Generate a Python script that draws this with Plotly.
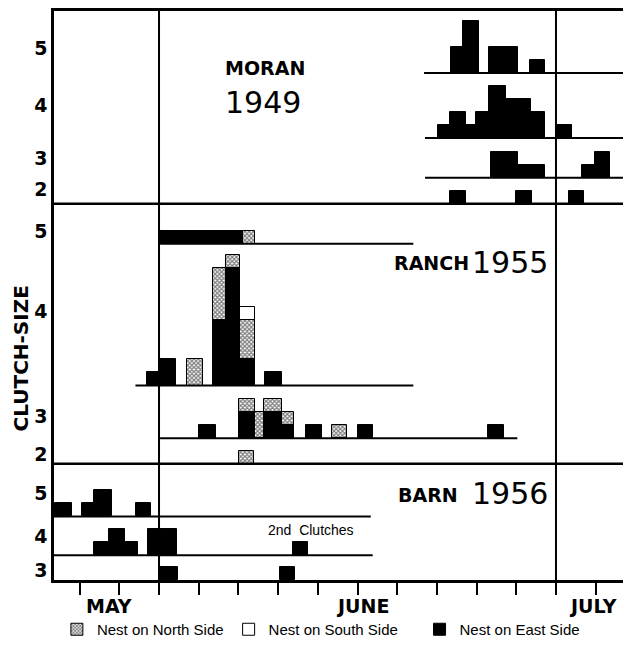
import plotly.graph_objects as go

# ---- x is the day of the season counted from May 1 (= 1); June 1 = 32, July 1 = 62
JUNE1 = 32
JULY1 = 62
TICK_DAYS = list(range(26, 66, 3))
MONTH_LABELS = ["MAY", "JUNE", "JULY"]
MONTH_LABEL_DAYS = [28.2, 47.4, 64.8]

# each bar: (start day, end day, east-side nests, north-side nests, south-side nests)
MORAN_5 = [(54.05, 55.0, 2, 0, 0), (55.0, 56.2, 4, 0, 0), (56.95, 58.2, 2, 0, 0),
           (58.2, 59.15, 2, 0, 0), (60.0, 61.2, 1, 0, 0)]
MORAN_4 = [(53.07, 54.0, 1, 0, 0), (54.0, 55.2, 2, 0, 0), (55.2, 55.96, 1, 0, 0),
           (55.96, 56.97, 2, 0, 0), (56.97, 58.23, 4, 0, 0), (58.23, 59.17, 3, 0, 0),
           (59.17, 60.12, 3, 0, 0), (60.12, 61.18, 2, 0, 0), (62.06, 63.19, 1, 0, 0)]
MORAN_3 = [(57.07, 58.1, 2, 0, 0), (58.1, 59.16, 2, 0, 0), (59.16, 60.17, 1, 0, 0),
           (60.17, 61.18, 1, 0, 0), (63.95, 64.96, 1, 0, 0), (64.96, 66.09, 2, 0, 0)]
MORAN_2 = [(54.0, 55.2, 1, 0, 0), (58.96, 60.17, 1, 0, 0), (63.01, 64.12, 1, 0, 0)]

RANCH_5 = [(32.08, 38.37, 1, 0, 0), (38.37, 39.29, 0, 1, 0)]
RANCH_4 = [(31.07, 32.08, 1, 0, 0), (32.08, 33.28, 2, 0, 0), (34.09, 35.3, 0, 2, 0),
           (36.06, 37.06, 5, 4, 0), (37.06, 38.12, 9, 1, 0), (38.12, 39.26, 2, 3, 1),
           (40.01, 41.27, 1, 0, 0)]
RANCH_3 = [(35.05, 36.31, 1, 0, 0), (38.07, 39.26, 2, 1, 0), (39.26, 39.94, 0, 2, 0),
           (39.94, 41.27, 2, 1, 0), (41.27, 42.2, 1, 1, 0), (43.11, 44.3, 1, 0, 0),
           (45.05, 46.19, 0, 1, 0), (47.02, 48.2, 1, 0, 0), (56.89, 58.1, 1, 0, 0)]
RANCH_2 = [(38.07, 39.18, 0, 1, 0)]

BARN_5 = [(24.14, 25.4, 1, 0, 0), (26.16, 27.11, 1, 0, 0), (27.11, 28.42, 2, 0, 0),
          (30.24, 31.4, 1, 0, 0)]
BARN_4 = [(27.1, 28.24, 1, 0, 0), (28.24, 29.43, 2, 0, 0), (29.43, 30.44, 1, 0, 0),
          (31.19, 32.23, 2, 0, 0), (32.23, 33.34, 2, 0, 0), (42.15, 43.28, 1, 0, 0)]
BARN_3 = [(32.02, 33.41, 1, 0, 0), (41.15, 42.28, 1, 0, 0)]

# baseline level of each row (in bar-height units) and the extent of its drawn base line
X_MIN, X_MAX = 24.063, 67.67
Y_MAX = 43.56
MORAN_BASES = [38.81, 33.83, 30.80, 28.8]
RANCH_BASES = [25.74, 14.89, 10.86, 8.9]
BARN_BASES = [4.87, 1.89, 0.0]
LINE_STARTS = [52.03, 52.1, 52.1, None, 32.08, 30.22, 32.08, None, X_MIN, X_MIN, None]
LINE_ENDS = [X_MAX, X_MAX, X_MAX, None, 51.22, 51.22, 59.08, None, 48.0, 48.15, None]
DIVIDERS = [28.8, 8.9]

# y-axis labels (clutch sizes) for the three panels
SIZE_LABELS = ["5", "4", "3", "2", "5", "4", "3", "2", "5", "4", "3"]
SIZE_LABEL_POS = [40.72, 36.34, 32.30, 29.92, 26.67, 20.55, 12.54, 9.64, 6.63, 3.33, 0.73]

LEGEND_NAMES = ["Nest on North Side", "Nest on South Side", "Nest on East Side"]

ROWS = [MORAN_5, MORAN_4, MORAN_3, MORAN_2, RANCH_5, RANCH_4, RANCH_3, RANCH_2,
        BARN_5, BARN_4, BARN_3]
BASES = MORAN_BASES + RANCH_BASES + BARN_BASES

series = {"east": dict(x=[], w=[], y=[], b=[]),
          "north": dict(x=[], w=[], y=[], b=[]),
          "south": dict(x=[], w=[], y=[], b=[])}
for row, base in zip(ROWS, BASES):
    for (s, e, ne, nn, ns) in row:
        lvl = base
        for key, n in (("east", ne), ("north", nn), ("south", ns)):
            if n:
                d = series[key]
                d["x"].append((s + e) / 2)
                d["w"].append(e - s)
                d["y"].append(n)
                d["b"].append(lvl)
                lvl += n

fig = go.Figure()
line = dict(color="black", width=1)
fig.add_trace(go.Bar(name=LEGEND_NAMES[0], x=series["north"]["x"], y=series["north"]["y"],
                     width=series["north"]["w"], base=series["north"]["b"],
                     marker=dict(color="white", line=line,
                                 pattern=dict(shape="x", fgcolor="black", bgcolor="white",
                                              size=3, solidity=0.65))))
fig.add_trace(go.Bar(name=LEGEND_NAMES[1] + "\u00a0" * 4, x=series["south"]["x"],
                     y=series["south"]["y"],
                     width=series["south"]["w"], base=series["south"]["b"],
                     marker=dict(color="white", line=line)))
fig.add_trace(go.Bar(name=LEGEND_NAMES[2], x=series["east"]["x"], y=series["east"]["y"],
                     width=series["east"]["w"], base=series["east"]["b"],
                     marker=dict(color="black", line=line)))

shapes = []
for base, x0, x1 in zip(BASES, LINE_STARTS, LINE_ENDS):
    if x0 is not None:
        shapes.append(dict(type="line", xref="x", yref="y", x0=x0, x1=x1, y0=base, y1=base,
                           line=dict(color="black", width=2)))
for yv in DIVIDERS:
    shapes.append(dict(type="line", xref="x", yref="y", x0=X_MIN, x1=X_MAX, y0=yv, y1=yv,
                       line=dict(color="black", width=2.5)))
for xv in (JUNE1, JULY1):
    shapes.append(dict(type="line", xref="x", yref="y", x0=xv, x1=xv, y0=0, y1=Y_MAX,
                       line=dict(color="black", width=2)))

BOLD = "DejaVu Sans"
annotations = []
for t, d in zip(MONTH_LABELS, MONTH_LABEL_DAYS):
    annotations.append(dict(text="<b>%s</b>" % t, x=d, xref="x", y=-0.045, yref="paper",
                            showarrow=False, yanchor="middle",
                            font=dict(family=BOLD, size=19, color="black")))
titles = [("<b>MORAN</b>", 40.0, 39.17, 19), ("<b>RANCH</b>", 52.56, 24.24, 19),
          ("<b>BARN</b>", 52.33, 6.52, 19)]
for t, x, y, s in titles:
    annotations.append(dict(text=t, x=x, y=y, xref="x", yref="y", showarrow=False,
                            font=dict(family=BOLD, size=s, color="black")))
years = [("1949", 39.86, 36.59), ("1955", 58.53, 24.32), ("1956", 58.53, 6.59)]
for t, x, y in years:
    annotations.append(dict(text=t, x=x, y=y, xref="x", yref="y", showarrow=False,
                            font=dict(family="DejaVu Sans", size=30, color="black")))
annotations.append(dict(text="2nd  Clutches", x=43.49, y=3.79, xref="x", yref="y",
                        showarrow=False,
                        font=dict(family="Liberation Sans", size=14, color="black")))
annotations.append(dict(text="<b>CLUTCH-SIZE</b>", x=-0.057, xref="paper", y=16.97, yref="y",
                        textangle=-90, showarrow=False, xanchor="center", yanchor="middle",
                        font=dict(family=BOLD, size=20, color="black")))

# the page body adds an 8 px offset, so the figure is sized 8 px smaller on each axis
fig.update_layout(
    width=623, height=638,
    margin=dict(l=46, r=0, t=0, b=63),
    paper_bgcolor="white", plot_bgcolor="white",
    barmode="overlay",
    bargap=0,
    shapes=shapes,
    annotations=annotations,
    showlegend=True,
    legend=dict(orientation="h", x=0.005, y=-0.087, xanchor="left", yanchor="middle",
                font=dict(family="Liberation Sans", size=15, color="black"),
                bgcolor="rgba(0,0,0,0)", traceorder="normal"),
    xaxis=dict(range=[X_MIN, X_MAX], showgrid=False, zeroline=False, showline=True,
               linecolor="black", linewidth=2.5, mirror=True, ticks="outside", ticklen=12,
               tickwidth=2, tickcolor="black", tickvals=TICK_DAYS, showticklabels=False),
    yaxis=dict(range=[0, Y_MAX], showgrid=False, zeroline=False, showline=True,
               linecolor="black", linewidth=2.5, ticks="", tickvals=SIZE_LABEL_POS,
               ticktext=["<b>%s</b>" % s for s in SIZE_LABELS],
               tickfont=dict(family=BOLD, size=19, color="black")),
)

fig.write_html("out.html")
